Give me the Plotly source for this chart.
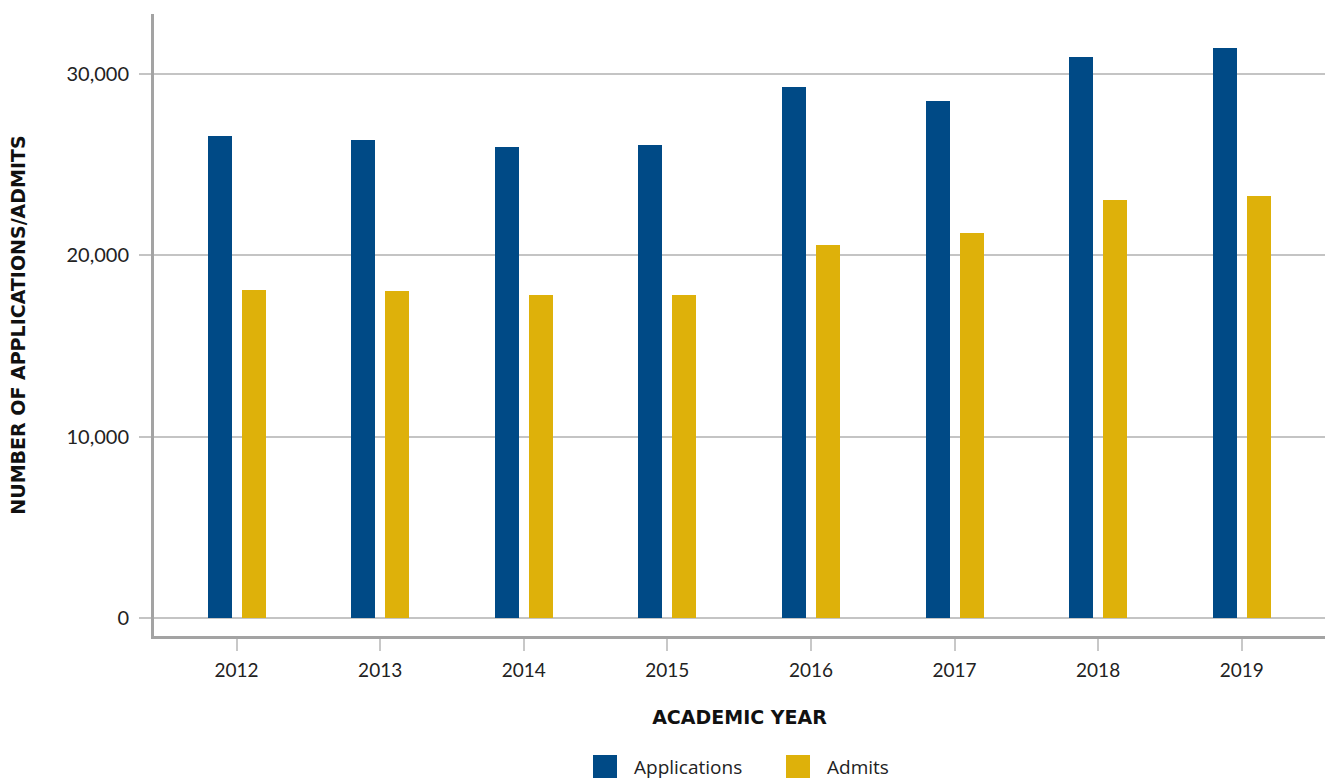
import plotly.graph_objects as go

# Academic years and counts
years = ["2012", "2013", "2014", "2015", "2016", "2017", "2018", "2019"]
applications = [26600, 26350, 25950, 26100, 29250, 28500, 30950, 31450]
admits = [18100, 18050, 17800, 17800, 20550, 21250, 23050, 23250]

BLUE = "#004A86"
GOLD = "#DEB10A"
GRID = "#c4c4c4"
AXIS = "#a3a3a3"
FONT = "Lato"
LEGEND_FONT = "Open Sans"
TITLE_FONT = "DejaVu Sans"

fig = go.Figure()
fig.add_trace(go.Bar(
    x=years, y=applications, name="Applications",
    marker=dict(color=BLUE, line=dict(width=0)),
    width=0.167, offset=-0.2018, showlegend=False,
))
fig.add_trace(go.Bar(
    x=years, y=admits, name="Admits",
    marker=dict(color=GOLD, line=dict(width=0)),
    width=0.167, offset=0.0348, showlegend=False,
))

# Legend drawn as swatches + labels below the axis title
legend_items = [("Applications", BLUE, 593, 632), ("Admits", GOLD, 786, 825)]
W, H = 1325, 781
L, R, T, B = 154, 0, 14, 145
pw, ph = W - L - R, H - T - B
def px(x):
    return (x - L) / pw
def py(y):
    return (H - B - y) / ph
shapes, annotations = [], []
for label, color, sx, tx in legend_items:
    shapes.append(dict(type="rect", xref="paper", yref="paper",
                       x0=px(sx), x1=px(sx + 24), y0=py(778), y1=py(755),
                       fillcolor=color, line=dict(width=0)))
    annotations.append(dict(xref="paper", yref="paper", x=px(tx), y=py(767),
                            xanchor="left", yanchor="middle", showarrow=False,
                            text=label, font=dict(family=LEGEND_FONT, size=19, color="#222")))

fig.update_layout(
    width=W, height=H,
    margin=dict(l=L, r=R, t=T, b=B),
    plot_bgcolor="white", paper_bgcolor="white",
    font=dict(family=FONT, size=19, color="#222"),
    shapes=shapes, annotations=annotations,
    bargap=0,
)
fig.update_xaxes(
    type="category", range=[-0.575, 7.58],
    showline=True, linecolor=AXIS, linewidth=3,
    ticks="outside", ticklen=12, tickwidth=2, tickcolor="#c8c8c8",
    ticklabelstandoff=3,
    showgrid=False,
    tickfont=dict(family=FONT, size=19, color="#222"),
    title=dict(text="ACADEMIC YEAR", standoff=31,
               font=dict(family=TITLE_FONT, size=19, color="#111", weight="bold")),
)
fig.update_yaxes(
    range=[-1000, 33300],
    tickvals=[0, 10000, 20000, 30000], tickformat=",",
    showline=True, linecolor=AXIS, linewidth=3,
    showgrid=True, gridcolor=GRID, gridwidth=2,
    zeroline=True, zerolinecolor=GRID, zerolinewidth=2,
    ticks="outside", ticklen=12, tickwidth=2, tickcolor=GRID,
    ticklabelstandoff=6,
    tickfont=dict(family=FONT, size=20, color="#222"),
    title=dict(text="NUMBER OF APPLICATIONS/ADMITS", standoff=36,
               font=dict(family=TITLE_FONT, size=19, color="#111", weight="bold")),
)

fig.write_html("out.html")
